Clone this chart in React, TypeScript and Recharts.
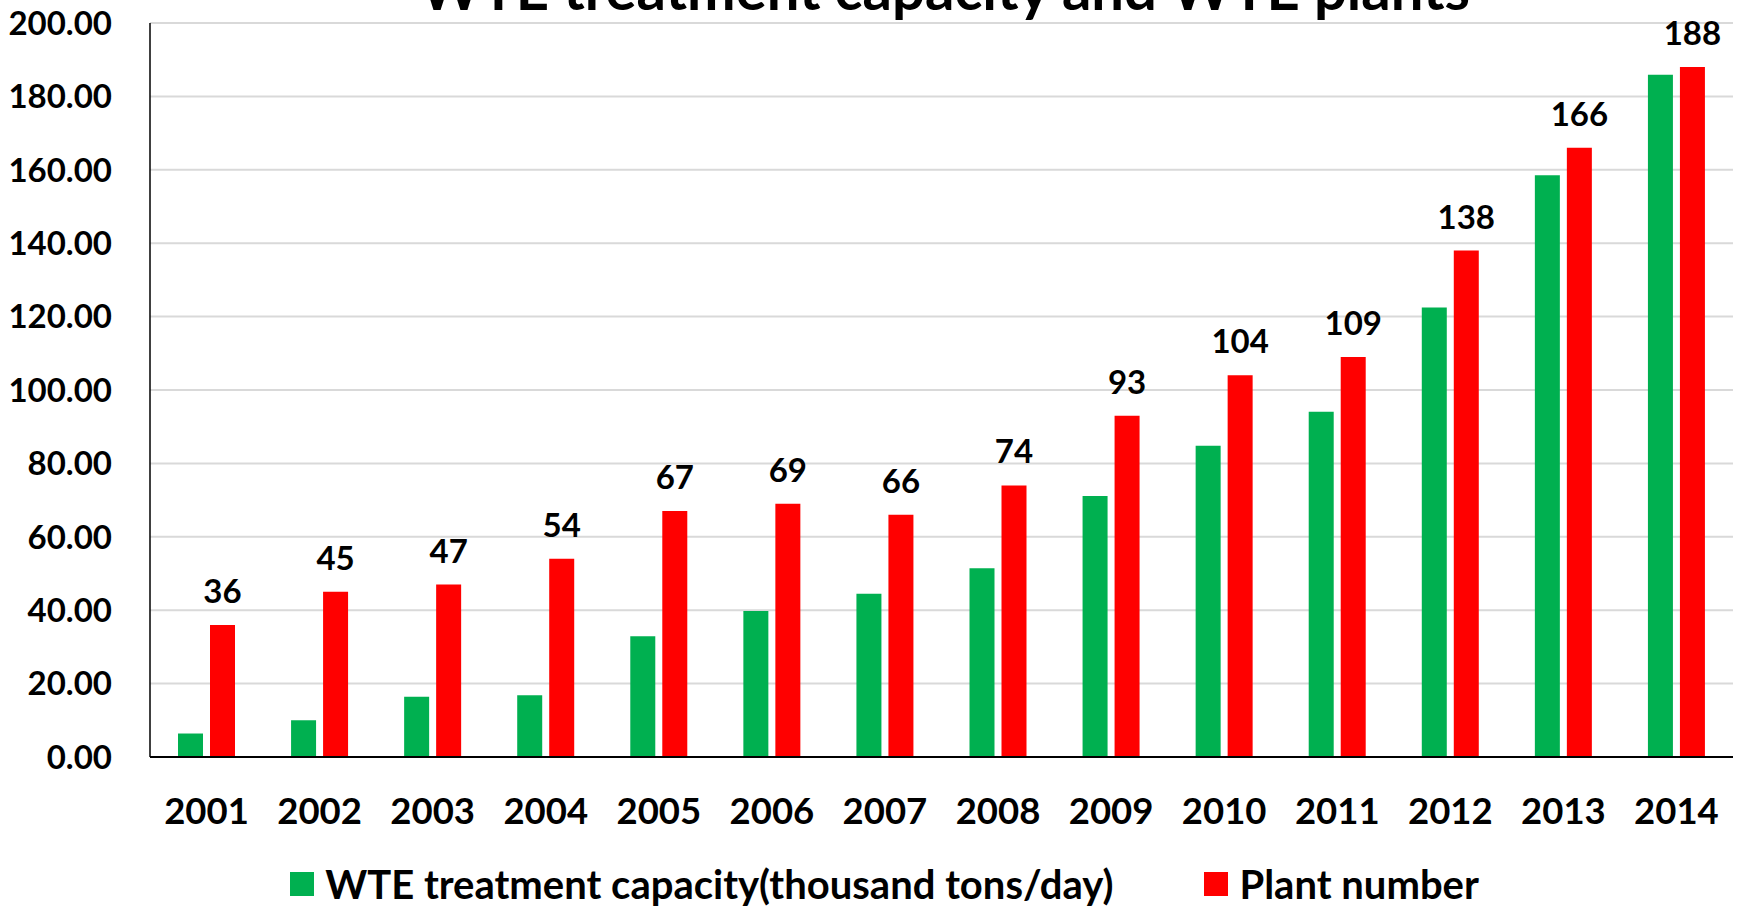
import React from 'react';
import { BarChart, Bar, XAxis, YAxis, CartesianGrid, Legend, LabelList } from 'recharts';

const years = ['2001', '2002', '2003', '2004', '2005', '2006', '2007', '2008', '2009', '2010', '2011', '2012', '2013', '2014'];
const capacity = [6.4, 10.0, 16.4, 16.8, 32.9, 39.8, 44.5, 51.4, 71.1, 84.8, 94.1, 122.5, 158.5, 185.9];
const plants = [36, 45, 47, 54, 67, 69, 66, 74, 93, 104, 109, 138, 166, 188];
const yTicks = [0, 20, 40, 60, 80, 100, 120, 140, 160, 180, 200];

const seriesNames = {
  capacity: 'WTE treatment capacity(thousand tons/day)',
  plants: 'Plant number',
};
const seriesOrder = ['capacity', 'plants'];
const titleText = 'WTE treatment capacity and WTE plants';

const data = years.map((y, i) => ({ year: y, capacity: capacity[i], plants: plants[i] }));

const FONT = 'Lato, "Open Sans", sans-serif';

const renderLegend = (props: any) => {
  const payload = [...(props.payload || [])].sort(
    (a: any, b: any) => seriesOrder.indexOf(a.dataKey) - seriesOrder.indexOf(b.dataKey)
  );
  return (
    <div
      style={{
        position: 'absolute',
        top: 864,
        left: 29,
        width: 1711,
        height: 40,
        display: 'flex',
        justifyContent: 'center',
        alignItems: 'center',
        gap: 91,
        fontFamily: FONT,
      }}
    >
      {payload.map((entry: any) => (
        <div key={entry.value} style={{ display: 'flex', alignItems: 'center', gap: 11 }}>
          <div style={{ width: 24, height: 24, background: entry.color }} />
          <span style={{ fontSize: 40, fontWeight: 700, color: '#000', lineHeight: '40px' }}>{entry.value}</span>
        </div>
      ))}
    </div>
  );
};

export default function App() {
  return (
    <div style={{ position: 'absolute', left: 0, top: 0, width: 1740, height: 911, overflow: 'hidden', background: '#fff' }}>
      <div
        style={{
          position: 'absolute',
          left: 150,
          width: 1590,
          top: -41,
          textAlign: 'center',
          fontFamily: FONT,
          fontWeight: 700,
          fontSize: 58,
          lineHeight: 1,
          color: '#000',
          zIndex: 2,
          whiteSpace: 'nowrap',
        }}
      >
        {titleText}
      </div>
      <BarChart
        width={1740}
        height={911}
        data={data}
        margin={{ top: 23, right: 7, bottom: 54, left: 0 }}
        barGap={7}
        barSize={25}
      >
        <CartesianGrid vertical={false} stroke="#d9d9d9" strokeWidth={2} />
        <XAxis
          dataKey="year"
          height={100}
          tickLine={false}
          tickSize={0}
          tickMargin={41}
          axisLine={{ stroke: '#000', strokeWidth: 2 }}
          tick={{ fill: '#000', fontSize: 36.5, fontWeight: 700, fontFamily: FONT }}
          interval={0}
        />
        <YAxis
          width={150}
          domain={[0, 200]}
          ticks={yTicks}
          tickLine={false}
          tickSize={0}
          tickMargin={38}
          axisLine={{ stroke: '#000', strokeWidth: 1.5 }}
          tickFormatter={(v: number) => v.toFixed(2)}
          tick={{ fill: '#000', fontSize: 33, fontWeight: 700, fontFamily: FONT }}
          interval={0}
        />
        <Legend
          verticalAlign="middle"
          align="center"
          layout="horizontal"
          content={renderLegend}
          wrapperStyle={{ top: 0, left: 0, width: 1740, height: 911, pointerEvents: 'none' }}
        />
        <Bar dataKey="capacity" name={seriesNames.capacity} fill="#00B050" isAnimationActive={false} />
        <Bar dataKey="plants" name={seriesNames.plants} fill="#FF0000" isAnimationActive={false}>
          <LabelList
            dataKey="plants"
            position="top"
            offset={22}
            fill="#000"
            style={{ fontSize: 33, fontWeight: 700, fontFamily: FONT }}
          />
        </Bar>
      </BarChart>
    </div>
  );
}
